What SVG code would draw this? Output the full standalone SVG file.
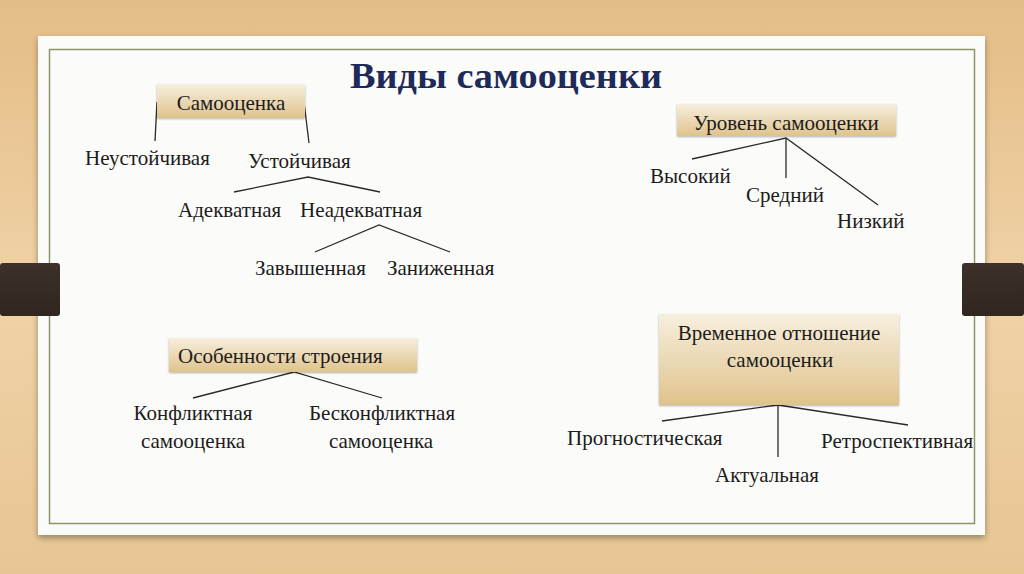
<svg xmlns="http://www.w3.org/2000/svg" width="1024" height="574" viewBox="0 0 1024 574">
<defs>
<linearGradient id="bg" x1="0" y1="0" x2="0" y2="1">
<stop offset="0" stop-color="#e4bc86"/>
<stop offset="0.5" stop-color="#efd2a6"/>
<stop offset="1" stop-color="#e8c694"/>
</linearGradient>
<linearGradient id="box" x1="0" y1="0" x2="0" y2="1">
<stop offset="0" stop-color="#f7efde"/>
<stop offset="1" stop-color="#dfc38c"/>
</linearGradient>
<linearGradient id="bar" x1="0" y1="0" x2="0" y2="1">
<stop offset="0" stop-color="#3d3129"/>
<stop offset="1" stop-color="#2f261f"/>
</linearGradient>
<filter id="sh" x="-5%" y="-5%" width="110%" height="115%">
<feGaussianBlur in="SourceAlpha" stdDeviation="3"/>
<feOffset dy="3"/>
<feComponentTransfer><feFuncA type="linear" slope="0.35"/></feComponentTransfer>
<feMerge><feMergeNode/><feMergeNode in="SourceGraphic"/></feMerge>
</filter>
<filter id="bsh" x="-5%" y="-10%" width="110%" height="130%">
<feGaussianBlur in="SourceAlpha" stdDeviation="1"/>
<feOffset dy="1"/>
<feComponentTransfer><feFuncA type="linear" slope="0.3"/></feComponentTransfer>
<feMerge><feMergeNode/><feMergeNode in="SourceGraphic"/></feMerge>
</filter>
</defs>
<style>
.t{font-family:"Liberation Serif","Times New Roman",serif;font-size:21px;fill:#1c1c1c}
.c{text-anchor:middle}
.title{font-family:"Liberation Serif","Times New Roman",serif;font-size:36px;font-weight:bold;fill:#1e2b5a}
.box{fill:url(#box);filter:url(#bsh)}
.ln{stroke:#2a2a2a;stroke-width:1.3;fill:none}
</style>
<rect width="1024" height="574" fill="url(#bg)"/>
<rect x="38" y="36" width="947" height="499" fill="#fbfbf9" filter="url(#sh)"/>
<rect x="49.5" y="49.5" width="925" height="474" fill="none" stroke="#8c9668" stroke-width="1.5"/>
<rect x="0" y="263" width="60" height="53" rx="3" fill="url(#bar)"/>
<rect x="962" y="263" width="62" height="53" rx="3" fill="url(#bar)"/>
<text class="title c" x="506" y="88" textLength="312" lengthAdjust="spacingAndGlyphs">Виды самооценки</text>
<g id="connectors">
<line class="ln" x1="157" y1="102" x2="155" y2="141"/>
<line class="ln" x1="304" y1="102" x2="309" y2="143"/>
<polyline class="ln" points="234,192 308,177 380,192"/>
<polyline class="ln" points="315,252 379,225 450,252"/>
<polyline class="ln" points="692,159 786,138 878,205"/>
<line class="ln" x1="786" y1="138" x2="786" y2="178"/>
<polyline class="ln" points="193,398 294,372 382,398"/>
<polyline class="ln" points="662,421 778,405 908,425"/>
<line class="ln" x1="778" y1="405" x2="778" y2="457"/>
</g>
<g id="n-samootsenka">
<rect class="box" x="157" y="84" width="148" height="34"/>
<text class="t c" x="231" y="110">Самооценка</text>
</g>
<g id="n-neustoich"><text class="t" x="85" y="165">Неустойчивая</text></g>
<g id="n-ustoich"><text class="t" x="248" y="168">Устойчивая</text></g>
<g id="n-adekv"><text class="t" x="178" y="217">Адекватная</text></g>
<g id="n-neadekv"><text class="t" x="300" y="217">Неадекватная</text></g>
<g id="n-zavysh"><text class="t" x="255" y="275">Завышенная</text></g>
<g id="n-zanizh"><text class="t" x="387" y="275">Заниженная</text></g>
<g id="n-uroven">
<rect class="box" x="677" y="104" width="219" height="32"/>
<text class="t c" x="786" y="130">Уровень самооценки</text>
</g>
<g id="n-vysokiy"><text class="t" x="650" y="183">Высокий</text></g>
<g id="n-sredniy"><text class="t" x="746" y="202">Средний</text></g>
<g id="n-nizkiy"><text class="t" x="837" y="228">Низкий</text></g>
<g id="n-osobennosti">
<rect class="box" x="169" y="338" width="248" height="34"/>
<text class="t" x="178" y="363">Особенности строения</text>
</g>
<g id="n-konfl"><text class="t c" x="193" y="420">Конфликтная</text><text class="t c" x="193" y="448">самооценка</text></g>
<g id="n-beskonfl"><text class="t c" x="382" y="420">Бесконфликтная</text><text class="t c" x="381" y="448">самооценка</text></g>
<g id="n-vremennoe">
<rect class="box" x="659" y="314" width="240" height="91"/>
<text class="t c" x="779" y="340">Временное отношение</text>
<text class="t c" x="780" y="367">самооценки</text>
</g>
<g id="n-prognost"><text class="t" x="567" y="445">Прогностическая</text></g>
<g id="n-aktual"><text class="t" x="715" y="482">Актуальная</text></g>
<g id="n-retro"><text class="t" x="821" y="448">Ретроспективная</text></g>
</svg>
